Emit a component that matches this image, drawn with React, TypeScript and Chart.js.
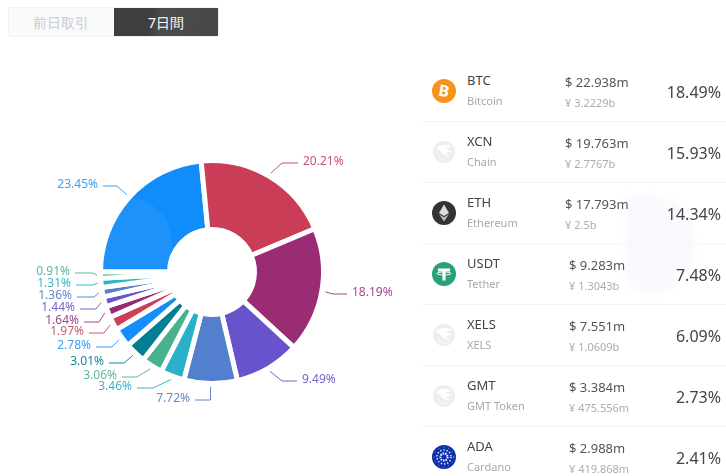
import React, { useEffect, useRef } from "react";
import { Chart, registerables } from "chart.js";

Chart.register(...registerables);

const shareLabels = ["23.45%", "20.21%", "18.19%", "9.49%", "7.72%", "3.46%", "3.06%", "3.01%", "2.78%", "1.97%", "1.64%", "1.44%", "1.36%", "1.31%", "0.91%"];
const shareValues = [23.45, 20.21, 18.19, 9.49, 7.72, 3.46, 3.06, 3.01, 2.78, 1.97, 1.64, 1.44, 1.36, 1.31, 0.91];
const sliceColors = ["#118DFB", "#C93D56", "#992C73", "#6853CD", "#527FCE", "#2AB1C9", "#48B28F", "#007F94", "#148EFA", "#CC3F58", "#952A75", "#6B53C8", "#5580CB", "#2DB3C4", "#47B08F"];
const labelColors = ["#3E9FF5", "#C4537A", "#A04A85", "#7565C8", "#6587CC", "#3FB3CB", "#5BB89C", "#1A8599", "#3E9FF5", "#CF5A70", "#A04A85", "#7565C8", "#6587CC", "#3FB3CB", "#5BB89C"];

// label leader geometry, in page pixels: elbow x, elbow y, end x
const leaderLayout = [
  [117, 186, 103], [282, 163, 298], [333, 294, 347], [282, 381, 297], [210.5, 400, 195],
  [153, 388, 137], [137, 377, 122], [124, 363, 109], [112, 347, 96], [104, 333, 89],
  [99, 322, 84], [96, 309, 80], [94, 297, 77], [93, 285, 76], [93, 273, 75],
];

const symbols = ["BTC", "XCN", "ETH", "USDT", "XELS", "GMT", "ADA"];
const names = ["Bitcoin", "Chain", "Ethereum", "Tether", "XELS", "GMT Token", "Cardano"];
const usdAmounts = ["$ 22.938m", "$ 19.763m", "$ 17.793m", "$ 9.283m", "$ 7.551m", "$ 3.384m", "$ 2.988m"];
const cnyAmounts = ["¥ 3.2229b", "¥ 2.7767b", "¥ 2.5b", "¥ 1.3043b", "¥ 1.0609b", "¥ 475.556m", "¥ 419.868m"];
const rowShares = ["18.49%", "15.93%", "14.34%", "7.48%", "6.09%", "2.73%", "2.41%"];

const FONT = '"Noto Sans", sans-serif';

const leaderPlugin = {
  id: "leaders",
  afterDatasetsDraw(chart: any) {
    const ctx = chart.ctx;
    const arcs = chart.getDatasetMeta(0).data;
    ctx.save();
    ctx.font = `12px ${FONT}`;
    ctx.textBaseline = "middle";
    arcs.forEach((arc: any, i: number) => {
      const mid = (arc.startAngle + arc.endAngle) / 2;
      const r = arc.outerRadius + 3.5;
      const sx = arc.x + Math.cos(mid) * r;
      const sy = arc.y + Math.sin(mid) * r;
      const [ex, ey, endX] = leaderLayout[i];
      ctx.strokeStyle = labelColors[i];
      ctx.lineWidth = 1;
      ctx.beginPath();
      ctx.moveTo(sx, sy);
      ctx.lineTo(ex, ey);
      ctx.lineTo(endX, ey);
      ctx.stroke();
      const right = endX > ex;
      ctx.textAlign = right ? "left" : "right";
      ctx.fillStyle = labelColors[i];
      ctx.fillText(shareLabels[i], endX + (right ? 5 : -5), ey - 1);
    });
    ctx.restore();
  },
};

function CoinIcon({ symbol }: { symbol: string }) {
  const common = { width: 24, height: 24, viewBox: "0 0 24 24", style: { display: "block" } };
  if (symbol === "BTC")
    return (
      <svg {...common}>
        <circle cx="12" cy="12" r="12" fill="#F7931A" />
        <text x="12" y="17.5" textAnchor="middle" fontSize="16" fontWeight="700" fill="#fff" fontFamily={FONT} transform="rotate(10 12 12)">B</text>
      </svg>
    );
  if (symbol === "ETH")
    return (
      <svg {...common}>
        <circle cx="12" cy="12" r="12" fill="#333" />
        <path d="M12 3.5 L17 12 L12 15 L7 12 Z" fill="#ddd" />
        <path d="M12 16.2 L17 13.2 L12 20.5 L7 13.2 Z" fill="#bbb" />
      </svg>
    );
  if (symbol === "USDT")
    return (
      <svg {...common}>
        <circle cx="12" cy="12" r="12" fill="#26A17B" />
        <path d="M6 6.5 H18 V9.5 H13.6 V18.5 H10.4 V9.5 H6 Z" fill="#fff" />
        <ellipse cx="12" cy="11.5" rx="7" ry="1.5" fill="none" stroke="#fff" strokeWidth="1" />
      </svg>
    );
  if (symbol === "ADA")
    return (
      <svg {...common}>
        <circle cx="12" cy="12" r="12" fill="#0D2EA8" />
        <circle cx="12" cy="12" r="3.6" fill="none" stroke="#fff" strokeWidth="2" strokeDasharray="1.5 1" />
        <circle cx="12" cy="12" r="7" fill="none" stroke="#dfe6ff" strokeWidth="1.6" strokeDasharray="1.4 1.8" />
        <circle cx="12" cy="12" r="9.8" fill="none" stroke="#9db0ef" strokeWidth="0.9" strokeDasharray="1 4" />
      </svg>
    );
  return (
    <svg {...common}>
      <circle cx="12" cy="12" r="11" fill="#EEEEEE" />
      <path d="M3.5 9 C8 4 15 3.5 20 7 C16 7 14 8 13.5 9.5 C16 9.5 18 10 19.5 11.5 C16 11.5 14.5 12.5 14 14 C15.5 14.5 16.5 15 17.5 16.5 C13 16 10 14.5 8.5 11.5 C7 10 5.5 9.2 3.5 9 Z" fill="#fff" />
      <path d="M6 15 C8 18 11 20 15 20 C11 21 7 19 6 15 Z" fill="#fff" />
    </svg>
  );
}

const abs = (left: number, top: number, extra: React.CSSProperties = {}): React.CSSProperties => ({
  position: "absolute",
  left,
  top,
  whiteSpace: "nowrap",
  lineHeight: "16px",
  ...extra,
});

export default function App() {
  const ref = useRef<HTMLCanvasElement>(null);
  useEffect(() => {
    document.body.style.margin = "0";
    const chart = new Chart(ref.current!, {
      type: "doughnut",
      data: {
        labels: shareLabels,
        datasets: [{ data: shareValues, backgroundColor: sliceColors, borderColor: "#fff", borderWidth: 5, hoverOffset: 0 }],
      },
      options: {
        responsive: false,
        animation: false,
        rotation: -90,
        radius: 111.5,
        cutout: "38.1%",
        layout: { padding: { top: 68 } },
        plugins: { legend: { display: false }, tooltip: { enabled: false } },
      },
      plugins: [leaderPlugin],
    } as any);
    return () => chart.destroy();
  }, []);

  return (
    <div style={{ position: "fixed", left: 0, top: 0, width: 726, height: 476, overflow: "hidden", background: "#fff", fontFamily: FONT }}>
      <div style={{ position: "absolute", left: 625, top: 195, width: 70, height: 100, borderRadius: "0 60px 60px 30px", background: "#F8FAFD", filter: "blur(3px)" }} />
      <canvas ref={ref} width={424} height={476} style={{ position: "absolute", left: 0, top: 0, width: 424, height: 476 }} />
      <div style={{ position: "absolute", left: 80, top: 197, width: 92, height: 92, borderRadius: "50%", background: "rgba(255,255,255,0.05)", clipPath: "polygon(0 0,100% 0,100% 78%,0 78%)" }} />

      <div style={{ position: "absolute", left: 8, top: 7, width: 211, height: 30, boxSizing: "border-box", border: "1px solid #EFF1F4", borderRadius: 2, background: "#F9FAFC" }} />
      <div style={abs(33, 15, { fontSize: 14, color: "#C9CACC" })}>前日取引</div>
      <div style={{ position: "absolute", left: 114, top: 8, width: 104, height: 28, background: "linear-gradient(100deg,#3E3E3E 0%,#3E3E3E 35%,#4C4C4C 45%,#474747 100%)" }} />
      <div style={abs(148, 15, { fontSize: 14, color: "#fff" })}>7日間</div>

      {symbols.map((symbol, i) => {
        const y = 61 * i;
        return (
          <React.Fragment key={symbol}>
            <div style={{ position: "absolute", left: 432, top: 79 + y }}>
              <CoinIcon symbol={symbol} />
            </div>
            <div style={abs(467, 72 + y, { fontSize: 13, color: "#444" })}>{symbol}</div>
            <div style={abs(467, 93 + y, { fontSize: 11, color: "#A8A8A8" })}>{names[i]}</div>
            <div style={abs(i < 3 ? 565 : 569, 74 + y, { fontSize: 13, color: "#555" })}>{usdAmounts[i]}</div>
            <div style={abs(i < 3 ? 565 : 569, 95 + y, { fontSize: 11, color: "#ADADAD" })}>{cnyAmounts[i]}</div>
            <div style={abs(0, 84 + y, { left: "auto", right: 5, fontSize: 16, color: "#444" })}>{rowShares[i]}</div>
            <div style={{ position: "absolute", left: 421, top: 121 + y, width: 305, height: 1, background: "#F4F5F7" }} />
          </React.Fragment>
        );
      })}
    </div>
  );
}
